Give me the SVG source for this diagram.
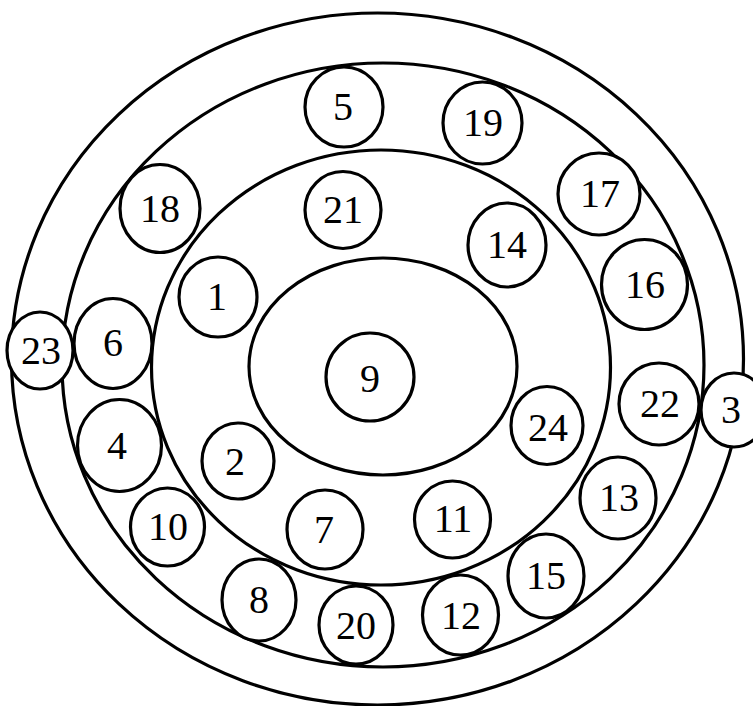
<svg xmlns="http://www.w3.org/2000/svg" width="753" height="706" viewBox="0 0 753 706">
<style>
.ring{fill:none;stroke:#000;stroke-width:3.2}
.n ellipse{fill:#fff;stroke:#000;stroke-width:3.2}
.n text{font-family:"Liberation Serif","Times New Roman",serif;font-size:40px;fill:#000;text-anchor:middle}
</style>
<rect width="753" height="706" fill="#fff"/>
<g id="rings">
<ellipse class="ring" cx="377.5" cy="359" rx="366" ry="346"/>
<ellipse class="ring" cx="383" cy="365" rx="321" ry="302"/>
<ellipse class="ring" cx="381" cy="367.5" rx="229.5" ry="217.5"/>
<ellipse class="ring" cx="383" cy="366.5" rx="134" ry="108.5"/>
</g>
<g id="n5" class="n"><ellipse cx="344" cy="107" rx="39" ry="40"/><text x="343" y="120">5</text></g>
<g id="n19" class="n"><ellipse cx="482.5" cy="123" rx="39.5" ry="41"/><text x="483" y="136">19</text></g>
<g id="n17" class="n"><ellipse cx="599" cy="194" rx="41" ry="41"/><text x="600" y="207">17</text></g>
<g id="n18" class="n"><ellipse cx="160" cy="208.5" rx="40" ry="44"/><text x="160" y="222">18</text></g>
<g id="n21" class="n"><ellipse cx="343" cy="210" rx="38" ry="38.5"/><text x="343" y="223">21</text></g>
<g id="n14" class="n"><ellipse cx="507" cy="245" rx="39" ry="42"/><text x="507" y="258">14</text></g>
<g id="n16" class="n"><ellipse cx="644.5" cy="284.5" rx="43" ry="45"/><text x="645" y="298">16</text></g>
<g id="n1" class="n"><ellipse cx="218" cy="297" rx="39" ry="40"/><text x="217" y="310">1</text></g>
<g id="n23" class="n"><ellipse cx="40" cy="350.5" rx="33" ry="38.5"/><text x="41" y="364">23</text></g>
<g id="n6" class="n"><ellipse cx="113" cy="343.5" rx="39" ry="45"/><text x="113" y="356">6</text></g>
<g id="n9" class="n"><ellipse cx="370" cy="377" rx="44" ry="44"/><text x="370" y="392">9</text></g>
<g id="n22" class="n"><ellipse cx="659" cy="404" rx="40" ry="41"/><text x="660" y="417">22</text></g>
<g id="n3" class="n"><ellipse cx="734" cy="410" rx="33" ry="37"/><text x="731" y="423">3</text></g>
<g id="n24" class="n"><ellipse cx="547" cy="425.5" rx="36" ry="39"/><text x="548" y="441">24</text></g>
<g id="n4" class="n"><ellipse cx="119.5" cy="445.5" rx="42" ry="46"/><text x="117" y="459">4</text></g>
<g id="n2" class="n"><ellipse cx="238" cy="461" rx="36" ry="38"/><text x="235" y="475">2</text></g>
<g id="n10" class="n"><ellipse cx="167.5" cy="527" rx="37" ry="39"/><text x="168" y="540">10</text></g>
<g id="n7" class="n"><ellipse cx="325" cy="529.5" rx="38" ry="39.5"/><text x="324" y="543">7</text></g>
<g id="n11" class="n"><ellipse cx="452.5" cy="519.5" rx="38" ry="38.5"/><text x="453" y="532">11</text></g>
<g id="n13" class="n"><ellipse cx="618" cy="498" rx="38" ry="41"/><text x="619" y="511">13</text></g>
<g id="n15" class="n"><ellipse cx="546" cy="576" rx="38" ry="42"/><text x="546" y="589">15</text></g>
<g id="n8" class="n"><ellipse cx="259" cy="600" rx="37" ry="41"/><text x="259" y="613">8</text></g>
<g id="n20" class="n"><ellipse cx="356" cy="625" rx="37" ry="39"/><text x="356" y="639">20</text></g>
<g id="n12" class="n"><ellipse cx="460.5" cy="615" rx="38" ry="40"/><text x="461" y="629">12</text></g>
<g id="connectors"></g>
</svg>
